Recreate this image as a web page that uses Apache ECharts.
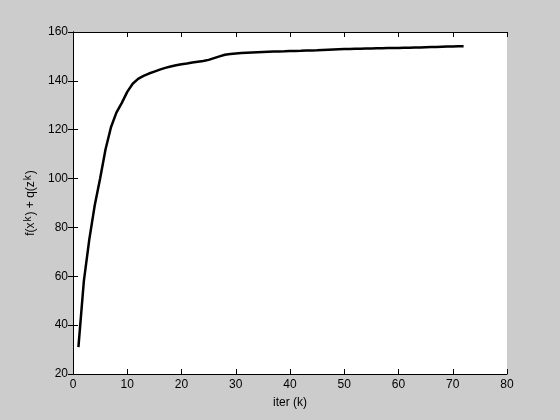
<!DOCTYPE html>
<html><head><meta charset="utf-8">
<script src="https://cdn.jsdelivr.net/npm/echarts@6/dist/echarts.min.js"></script>
<style>html,body{margin:0;padding:0;background:#cccccc}#c{width:560px;height:420px}</style>
</head><body><div id="c"></div>
<script>
const iters = [];
for (let i = 1; i <= 72; i++) iters.push(i);
const values = [31, 58, 75, 89, 100, 112, 121, 127, 131, 135.5,
  138.8, 140.8, 142, 143, 143.8, 144.6, 145.3, 145.9, 146.4, 146.8,
  147.1, 147.5, 147.8, 148.1, 148.6, 149.3, 150, 150.7, 151, 151.2,
  151.4, 151.5, 151.6, 151.7, 151.8, 151.9, 152, 152.05, 152.1, 152.2,
  152.25, 152.3, 152.4, 152.45, 152.5, 152.6, 152.7, 152.8, 152.9, 153.0,
  153.05, 153.1, 153.15, 153.2, 153.25, 153.3, 153.35, 153.4, 153.45, 153.5,
  153.55, 153.6, 153.65, 153.7, 153.8, 153.85, 153.9, 154.0, 154.05, 154.1,
  154.15, 154.2];
const xTicks = [0, 10, 20, 30, 40, 50, 60, 70, 80];
const yTicks = [20, 40, 60, 80, 100, 120, 140, 160];

const chart = echarts.init(document.getElementById('c'));
const font = 'Liberation Sans, Arial, sans-serif';
const axisCommon = {
  axisLine: {show: true, lineStyle: {color: '#000', width: 1}},
  axisTick: {show: true, inside: true, length: 5, lineStyle: {color: '#000'}},
  splitLine: {show: false}
};
chart.setOption({
  backgroundColor: '#cccccc',
  animation: false,
  grid: {left: 73, right: 53, top: 32, bottom: 46, show: true, backgroundColor: '#ffffff', borderWidth: 0},
  xAxis: [
    Object.assign({type: 'value', min: xTicks[0], max: xTicks[xTicks.length-1], interval: 10, position: 'bottom',
      axisLabel: {color: '#000', fontFamily: font, fontSize: 12, margin: 5},
      name: 'iter (k)', nameLocation: 'middle', nameGap: 23,
      nameTextStyle: {color: '#000', fontFamily: font, fontSize: 12}}, axisCommon),
    Object.assign({type: 'value', min: 0, max: 80, interval: 10, position: 'top', axisLabel: {show: false}}, axisCommon)
  ],
  yAxis: [
    Object.assign({type: 'value', min: yTicks[0], max: yTicks[yTicks.length-1], interval: 20, position: 'left',
      axisLabel: {color: '#000', fontFamily: font, fontSize: 12, margin: 5},
      name: '{n|f(x}{s|k}{n|) + q(z}{s|k}{n|)}', nameLocation: 'middle', nameGap: 33, nameRotate: 90,
      nameTextStyle: {rich: {
        n: {color: '#000', fontFamily: font, fontSize: 12},
        s: {color: '#000', fontFamily: font, fontSize: 10, verticalAlign: 'top', padding: [0, 1, 6, 1]}
      }}}, axisCommon),
    Object.assign({type: 'value', min: 20, max: 160, interval: 20, position: 'right', axisLabel: {show: false}}, axisCommon)
  ],
  series: [{
    type: 'line',
    data: iters.map((k, i) => [k, values[i]]),
    showSymbol: false,
    lineStyle: {color: '#000', width: 2.5},
    xAxisIndex: 0, yAxisIndex: 0
  }]
});
</script></body></html>
